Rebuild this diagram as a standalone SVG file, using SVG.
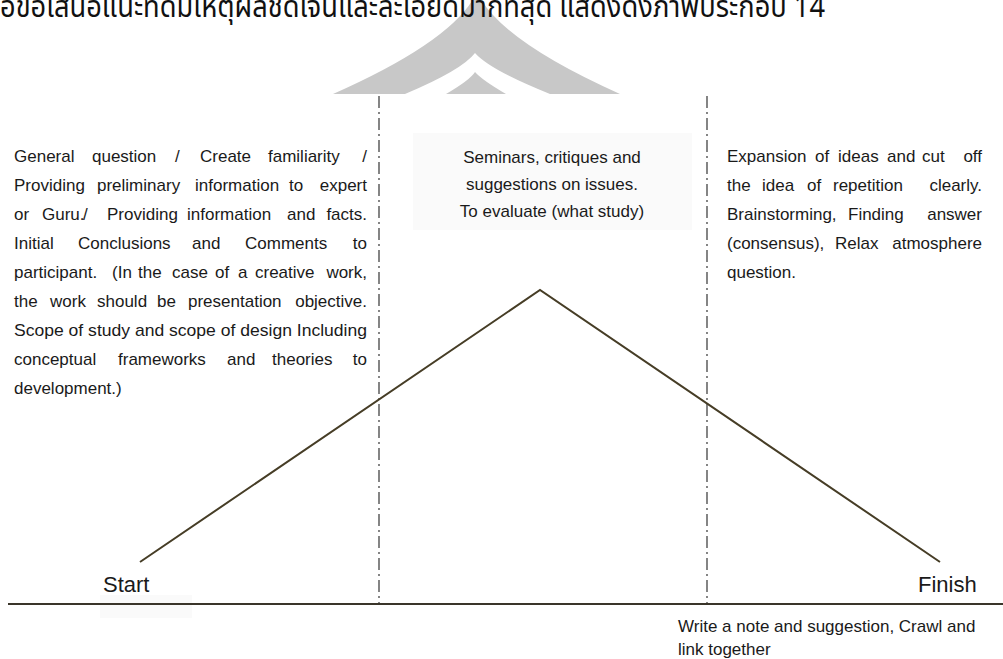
<svg xmlns="http://www.w3.org/2000/svg" width="1003" height="659" viewBox="0 0 1003 659">
<style>
.t{font-family:"Liberation Sans",Arial,sans-serif;font-size:17px;fill:#1a1a1a}
.e{text-anchor:end}
.c{text-anchor:middle}
.lbl{font-family:"Liberation Sans",Arial,sans-serif;font-size:22px;fill:#1a1a1a}
.th{font-family:"Noto Sans Thai","Noto Sans","DejaVu Sans",sans-serif;font-size:30px;fill:#111}
.dd{stroke:#444;stroke-width:1.3;stroke-dasharray:12 4 2 4;fill:none}
.tri{stroke:#463d26;stroke-width:2;fill:none;stroke-linejoin:miter}
.base{stroke:#3a352a;stroke-width:2;fill:none}
.box{fill:#fafafa}
</style>
<rect width="1003" height="659" fill="#fff"/>
<g id="watermark">
<path d="M333,94 Q455,40 477,-8 Q499,40 620,94 Z" fill="#c8c8c8"/>
<path d="M405,94 Q462,70 475,53 Q490,70 550,94 Z" fill="#fff"/>
<path d="M446,94 Q470,80 475,72 Q482,80 506,94 Z" fill="#c8c8c8"/>
</g>
<text id="caption" class="th" x="0" y="17" textLength="825" lengthAdjust="spacingAndGlyphs">อข้อเสนอแนะที่ดีมีเหตุผลชัดเจนและละเอียดมากที่สุด แสดงดังภาพประกอบ 14</text>
<g id="boxes">
<rect class="box" x="413" y="133" width="279" height="97"/>
<rect class="box" x="100" y="595" width="92" height="23"/>
</g>
<g id="connectors">
<line class="dd" x1="379" y1="96" x2="379" y2="604"/>
<line class="dd" x1="707" y1="96" x2="707" y2="604"/>
<polyline class="tri" points="140,562 540,290 940,562"/>
<line class="base" x1="8" y1="604" x2="1003" y2="604"/>
</g>
<g id="node-left">
<text class="t"><tspan x="14" y="162">General</tspan><tspan x="92" y="162">question</tspan><tspan x="175" y="162">/</tspan><tspan x="200" y="162">Create</tspan><tspan x="268" y="162">familiarity</tspan><tspan x="367" y="162" class="e">/</tspan></text>
<text class="t"><tspan x="14" y="191">Providing</tspan><tspan x="97" y="191">preliminary</tspan><tspan x="195" y="191">information</tspan><tspan x="289" y="191">to</tspan><tspan x="367" y="191" class="e">expert</tspan></text>
<text class="t"><tspan x="14" y="220">or</tspan><tspan x="42" y="220">Guru.</tspan><tspan x="83" y="220">/</tspan><tspan x="107" y="220">Providing</tspan><tspan x="187" y="220">information</tspan><tspan x="287" y="220">and</tspan><tspan x="367" y="220" class="e">facts.</tspan></text>
<text class="t"><tspan x="14" y="249">Initial</tspan><tspan x="78" y="249">Conclusions</tspan><tspan x="192" y="249">and</tspan><tspan x="245" y="249">Comments</tspan><tspan x="367" y="249" class="e">to</tspan></text>
<text class="t"><tspan x="14" y="278">participant.</tspan><tspan x="112" y="278">(In</tspan><tspan x="138" y="278">the</tspan><tspan x="172" y="278">case</tspan><tspan x="215" y="278">of</tspan><tspan x="238" y="278">a</tspan><tspan x="255" y="278">creative</tspan><tspan x="367" y="278" class="e">work,</tspan></text>
<text class="t"><tspan x="14" y="307">the</tspan><tspan x="50" y="307">work</tspan><tspan x="97" y="307">should</tspan><tspan x="157" y="307">be</tspan><tspan x="188" y="307">presentation</tspan><tspan x="367" y="307" class="e">objective.</tspan></text>
<text class="t" x="14" y="336" textLength="353" lengthAdjust="spacingAndGlyphs">Scope of study and scope of design Including</text>
<text class="t"><tspan x="14" y="365">conceptual</tspan><tspan x="118" y="365">frameworks</tspan><tspan x="227" y="365">and</tspan><tspan x="272" y="365">theories</tspan><tspan x="367" y="365" class="e">to</tspan></text>
<text class="t" x="14" y="394">development.)</text>
</g>
<g id="node-center">
<text class="t c" x="552" y="163">Seminars, critiques and</text>
<text class="t c" x="552" y="190">suggestions on issues.</text>
<text class="t c" x="552" y="217">To evaluate (what study)</text>
</g>
<g id="node-right">
<text class="t"><tspan x="727" y="162">Expansion</tspan><tspan x="815" y="162">of</tspan><tspan x="838" y="162">ideas</tspan><tspan x="887" y="162">and</tspan><tspan x="922" y="162">cut</tspan><tspan x="982" y="162" class="e">off</tspan></text>
<text class="t"><tspan x="727" y="191">the</tspan><tspan x="762" y="191">idea</tspan><tspan x="807" y="191">of</tspan><tspan x="833" y="191">repetition</tspan><tspan x="982" y="191" class="e">clearly.</tspan></text>
<text class="t"><tspan x="727" y="220">Brainstorming,</tspan><tspan x="848" y="220">Finding</tspan><tspan x="982" y="220" class="e">answer</tspan></text>
<text class="t"><tspan x="727" y="249">(consensus),</tspan><tspan x="835" y="249">Relax</tspan><tspan x="982" y="249" class="e">atmosphere</tspan></text>
<text class="t" x="727" y="278">question.</text>
</g>
<g id="node-start"><text class="lbl" x="103" y="592">Start</text></g>
<g id="node-finish"><text class="lbl" x="918" y="592">Finish</text></g>
<g id="node-bottom">
<text class="t" x="678" y="632">Write a note and suggestion, Crawl and</text>
<text class="t" x="678" y="655">link together</text>
</g>
</svg>
